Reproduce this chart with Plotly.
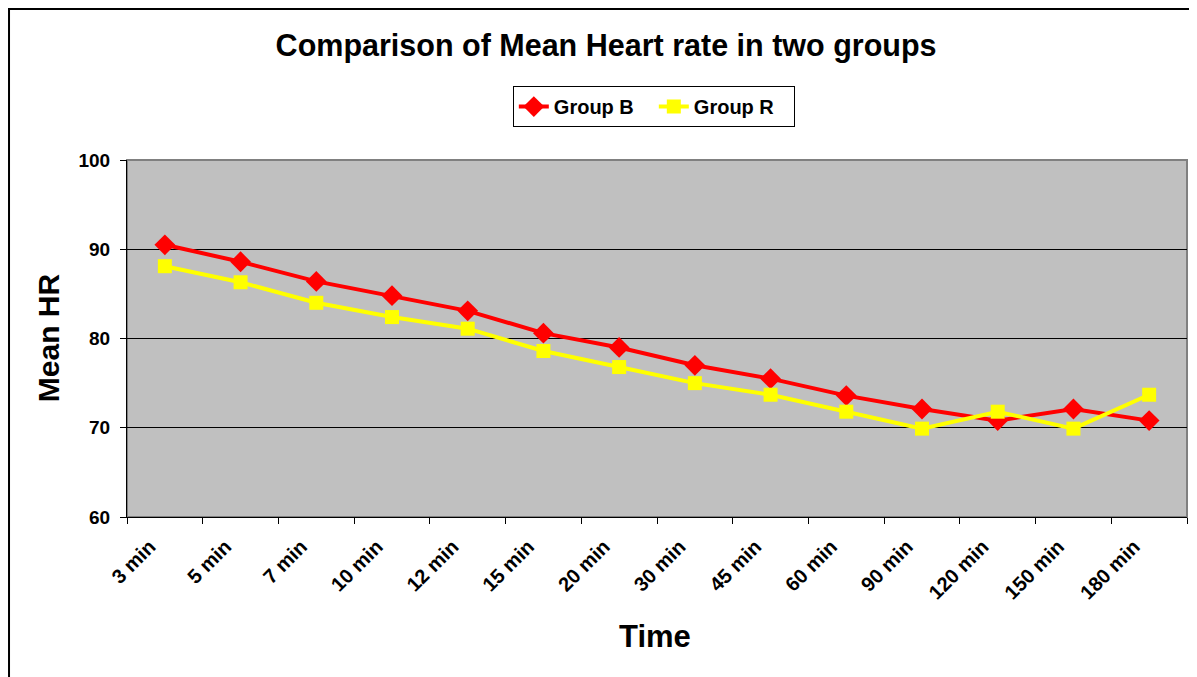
import plotly.graph_objects as go

# data
times = ["3 min", "5 min", "7 min", "10 min", "12 min", "15 min", "20 min",
         "30 min", "45 min", "60 min", "90 min", "120 min", "150 min", "180 min"]
group_b = [90.5, 88.6, 86.4, 84.8, 83.1, 80.6, 79.0, 77.0, 75.5, 73.6, 72.1, 70.8, 72.1, 70.8]
group_r = [88.1, 86.3, 84.0, 82.4, 81.1, 78.6, 76.8, 75.0, 73.7, 71.8, 69.9, 71.8, 69.9, 73.7]

font = "Liberation Sans, Arial, sans-serif"

fig = go.Figure()
fig.add_trace(go.Scatter(x=times, y=group_b, mode="lines+markers", name="Group B",
                         line=dict(color="#FF0000", width=4),
                         marker=dict(symbol="diamond", size=16, color="#FF0000")))
fig.add_trace(go.Scatter(x=times, y=group_r, mode="lines+markers", name="Group R",
                         line=dict(color="#FFFF00", width=4),
                         marker=dict(symbol="square", size=14, color="#FFFF00")))

fig.update_xaxes(type="category", range=[-0.5, 13.5], tickson="boundaries",
                 ticks="outside", ticklen=6, tickcolor="black", tickangle=-45,
                 ticklabelshift=-15, ticklabelstandoff=9,
                 showline=True, linecolor="black", linewidth=1, showgrid=False,
                 tickfont=dict(family=font, size=20, color="black", weight="bold"))
fig.update_yaxes(range=[60, 100], dtick=10, ticks="outside", ticklen=6, tickcolor="black",
                 ticklabelstandoff=6,
                 showline=True, linecolor="black", linewidth=1,
                 showgrid=True, gridcolor="black", gridwidth=1, zeroline=False,
                 tickfont=dict(family=font, size=19, color="black", weight="bold"))

# page body has an 8px margin, so the figure is 8px smaller each way
fig.update_layout(
    width=1189, height=669,
    margin=dict(l=119, r=10, t=152, b=160),
    paper_bgcolor="white", plot_bgcolor="#C0C0C0",
    title=dict(text="<b>Comparison of Mean Heart rate in two groups</b>",
               x=0.503, xanchor="center", y=1 - 37 / 669, yanchor="middle",
               font=dict(family=font, size=30.5, color="black")),
    legend=dict(orientation="h", x=0.497, xanchor="center", y=1.207, yanchor="top",
                bgcolor="white", bordercolor="black", borderwidth=1,
                entrywidth=95, entrywidthmode="pixels",
                font=dict(family=font, size=20, color="black", weight="bold")),
    showlegend=True,
    annotations=[
        dict(text="<b>Mean HR</b>", xref="paper", yref="paper", x=-0.0745, y=0.501,
             showarrow=False, textangle=-90, xanchor="center", yanchor="middle",
             font=dict(family=font, size=30, color="black")),
        dict(text="<b>Time</b>", xref="paper", yref="paper", x=0.498, y=-0.336,
             showarrow=False, xanchor="center", yanchor="middle",
             font=dict(family=font, size=31, color="black")),
    ],
    shapes=[
        dict(type="rect", xref="paper", yref="paper", x0=0, x1=1, y0=0, y1=1,
             line=dict(color="#808080", width=2), layer="below"),
        dict(type="rect", xref="paper", yref="paper", x0=-0.1113, x1=1.1, y0=-0.6, y1=1.423,
             line=dict(color="black", width=2)),
    ],
)

fig.write_html("out.html")
